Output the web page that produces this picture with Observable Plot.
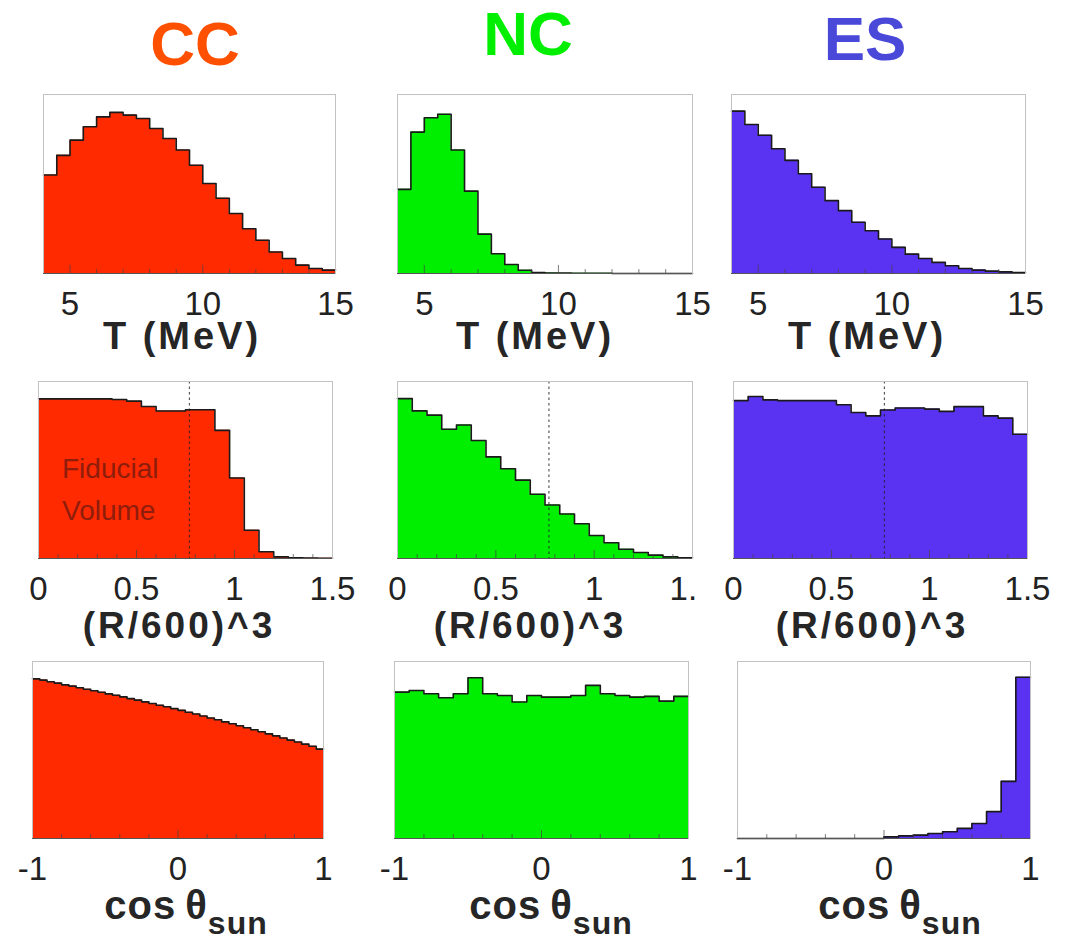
<!DOCTYPE html>
<html><head><meta charset="utf-8">
<script src="https://cdn.jsdelivr.net/npm/d3@7"></script>
<script src="https://cdn.jsdelivr.net/npm/@observablehq/plot@0.6"></script>
<style>
body{margin:0;background:#fff;}
#root{position:relative;width:1074px;height:939px;overflow:hidden;font-family:"Liberation Sans",Arial,Helvetica,sans-serif;}
.title{position:absolute;font-weight:bold;font-size:62px;line-height:1.1;transform:translateX(-50%);white-space:nowrap;}
.xlab{position:absolute;font-weight:bold;color:#262626;line-height:1;transform:translateX(-50%);white-space:nowrap;}
.panel{position:absolute;overflow:visible;}
.panel svg{max-width:none !important;}
</style></head><body><div id="root"></div>
<script>
// ---------- channel titles & colours ----------
const channels = ["CC", "NC", "ES"];
const titleColors = ["#ff5000", "#00ee00", "#4a48d8"];
const fillColors = ["#ff2a00", "#00ee00", "#5a32f2"];

// ---------- row 1: kinetic energy T (MeV), 0.5 MeV bins ----------
const tEdges = [4,4.5,5,5.5,6,6.5,7,7.5,8,8.5,9,9.5,10,10.5,11,11.5,12,12.5,13,13.5,14,14.5,15];
const ccT = [0.55,0.66,0.745,0.82,0.875,0.90,0.885,0.866,0.81,0.754,0.69,0.605,0.503,0.42,0.335,0.25,0.186,0.12,0.084,0.047,0.028,0.019];
const ncT = [0.47,0.79,0.87,0.89,0.69,0.46,0.22,0.11,0.05,0.018,0.006,0.003,0.002,0.001,0.001,0.001,0,0,0,0,0,0];
const esT = [0.907,0.832,0.772,0.697,0.632,0.557,0.482,0.407,0.351,0.286,0.239,0.193,0.146,0.108,0.084,0.062,0.043,0.028,0.019,0.013,0.009,0.006];
const tTicks = [5, 10, 15];
const tMinor = [6, 7, 8, 9, 11, 12, 13, 14];

// ---------- row 2: (R/600)^3, 0.075 bins ----------
const rEdges = [0,0.075,0.15,0.225,0.3,0.375,0.45,0.525,0.6,0.675,0.75,0.825,0.9,0.975,1.05,1.125,1.2,1.275,1.35,1.425,1.5];
const ccR = [0.902,0.902,0.902,0.902,0.902,0.898,0.889,0.859,0.833,0.833,0.840,0.840,0.724,0.455,0.160,0.038,0.009,0.004,0.002,0.001];
const ncR = [0.903,0.834,0.810,0.730,0.754,0.667,0.574,0.507,0.443,0.363,0.302,0.251,0.196,0.130,0.089,0.052,0.034,0.019,0.009,0.004];
const esR = [0.892,0.915,0.896,0.892,0.892,0.892,0.892,0.869,0.825,0.806,0.839,0.850,0.850,0.844,0.831,0.858,0.858,0.806,0.793,0.702];
const rTicks = [0, 0.5, 1, 1.5];
const rMinor = [0.1,0.2,0.3,0.4,0.6,0.7,0.8,0.9,1.1,1.2,1.3,1.4];
const fiducialCut = [0.77];
const fiducialText = ["Fiducial", "Volume"];
const fiducialTextY = [0.508, 0.271];
const fiducialTextX = 0.12;

// ---------- row 3: cos(theta_sun) ----------
const cEdges40 = [-1,-0.95,-0.9,-0.85,-0.8,-0.75,-0.7,-0.65,-0.6,-0.55,-0.5,-0.45,-0.4,-0.35,-0.3,-0.25,-0.2,-0.15,-0.1,-0.05,0,0.05,0.1,0.15,0.2,0.25,0.3,0.35,0.4,0.45,0.5,0.55,0.6,0.65,0.7,0.75,0.8,0.85,0.9,0.95,1];
const cEdges20 = [-1,-0.9,-0.8,-0.7,-0.6,-0.5,-0.4,-0.3,-0.2,-0.1,0,0.1,0.2,0.3,0.4,0.5,0.6,0.7,0.8,0.9,1];
const ccCos = [0.902,0.895,0.886,0.878,0.868,0.861,0.852,0.843,0.835,0.826,0.817,0.809,0.800,0.790,0.782,0.772,0.763,0.753,0.744,0.734,0.724,0.713,0.703,0.692,0.681,0.671,0.659,0.648,0.637,0.626,0.614,0.603,0.591,0.580,0.568,0.556,0.545,0.533,0.521,0.505];
const ncCos = [0.827,0.836,0.818,0.795,0.818,0.908,0.818,0.808,0.771,0.808,0.799,0.799,0.808,0.865,0.818,0.808,0.799,0.803,0.776,0.803];
const esCos = [0,0,0,0,0,0,0,0,0,0,0.009,0.015,0.019,0.028,0.038,0.057,0.085,0.152,0.323,0.911];
const cTicks = [-1, 0, 1];
const cMinor = [-0.8,-0.6,-0.4,-0.2,0.2,0.4,0.6,0.8];

// ---------- axis labels ----------
const tLabel = "T (MeV)";
const rLabel = "(R/600)^3";
const cLabelMain = "cos\u2009\u03b8";
const cLabelSub = "sun";

const root = document.getElementById("root");

// titles
const titlePos = [{x: 195, top: 10}, {x: 528, top: 0}, {x: 865, top: 5}];
channels.forEach((c, i) => {
  const d = document.createElement("div");
  d.className = "title";
  d.textContent = c;
  d.style.color = titleColors[i];
  d.style.left = titlePos[i].x + "px";
  d.style.top = titlePos[i].top + "px";
  root.appendChild(d);
});

function panel(o) {
  const W = o.right - o.left, H = o.bottom - o.top;
  const mL = 30, mR = 40, mT = 2, mB = 60;
  const bins = o.values.map((v, i) => ({x1: o.edges[i], x2: o.edges[i + 1], y: v}));
  const pts = bins.flatMap(b => [{x: b.x1, y: b.y}, {x: b.x2, y: b.y}]);
  const marks = [
    Plot.areaY(pts, {x: "x", y1: 0, y2: "y", fill: o.fill}),
  ];
  if (o.dashed) marks.push(Plot.ruleX(fiducialCut, {stroke: "#222", strokeOpacity: 0.75, strokeDasharray: "2.5,3", strokeWidth: 1.2}));
  if (o.annot) marks.push(Plot.text(fiducialText, {
    x: () => fiducialTextX, y: (d, i) => fiducialTextY[i], text: d => d,
    textAnchor: "start", lineAnchor: "middle", fill: "#8e1d0c", fontSize: 28
  }));
  marks.push(
    Plot.line(pts, {x: "x", y: "y", stroke: "#1a1a1a", strokeWidth: 1.6}),
    Plot.ruleX(o.minor, {y1: 0, y2: 0.022, stroke: "#444", strokeOpacity: 0.7}),
    Plot.ruleX(o.ticks, {y1: 0, y2: 0.045, stroke: "#444", strokeOpacity: 0.7}),
    Plot.frame({stroke: "#c2c2c2", strokeWidth: 1}),
    Plot.ruleY([0], {stroke: "#555", strokeWidth: 1.2}),
    Plot.axisX(o.ticks, {tickSize: 0, tickPadding: 18, label: null, fontSize: 33, fill: "#222", tickFormat: d => String(d)})
  );
  const svg = Plot.plot({
    width: W + mL + mR, height: H + mT + mB,
    marginLeft: mL, marginRight: mR, marginTop: mT, marginBottom: mB,
    x: {domain: o.domain, label: null},
    y: {domain: [0, 1], axis: null},
    style: {fontFamily: "'Liberation Sans', Arial, Helvetica, sans-serif", fontSize: "33px", color: "#222", background: "transparent", overflow: "visible", maxWidth: "none"},
    marks
  });
  svg.style.maxWidth = "none";
  const wrap = document.createElement("div");
  wrap.className = "panel";
  wrap.style.left = (o.left - mL) + "px";
  wrap.style.top = (o.top - mT) + "px";
  wrap.style.width = (W + mL + mR) + "px";
  wrap.style.height = (H + mT + mB) + "px";
  if (o.clipAt) {
    wrap.style.overflow = "hidden";
    wrap.style.width = (o.clipAt - (o.left - mL)) + "px";
  }
  wrap.appendChild(svg);
  root.appendChild(wrap);
}

function xlabel(html, cx, top, size, spacing) {
  const d = document.createElement("div");
  d.className = "xlab";
  d.innerHTML = html;
  d.style.left = cx + "px";
  d.style.top = top + "px";
  d.style.fontSize = size + "px";
  d.style.letterSpacing = spacing + "px";
  root.appendChild(d);
}

// Row 1
panel({left: 43, right: 335, top: 94, bottom: 273, domain: [4, 15], edges: tEdges, values: ccT, fill: fillColors[0], ticks: tTicks, minor: tMinor});
panel({left: 397, right: 692, top: 94, bottom: 273, domain: [4, 15], edges: tEdges, values: ncT, fill: fillColors[1], ticks: tTicks, minor: tMinor});
panel({left: 731, right: 1025, top: 94, bottom: 273, domain: [4, 15], edges: tEdges, values: esT, fill: fillColors[2], ticks: tTicks, minor: tMinor});
// Row 2
panel({left: 38, right: 332, top: 381, bottom: 558, domain: [0, 1.5], edges: rEdges, values: ccR, fill: fillColors[0], ticks: rTicks, minor: rMinor, dashed: true, annot: true});
panel({left: 397, right: 692, top: 381, bottom: 558, domain: [0, 1.5], edges: rEdges, values: ncR, fill: fillColors[1], ticks: rTicks, minor: rMinor, dashed: true, clipAt: 698});
panel({left: 733, right: 1027, top: 381, bottom: 558, domain: [0, 1.5], edges: rEdges, values: esR, fill: fillColors[2], ticks: rTicks, minor: rMinor, dashed: true});
// Row 3
panel({left: 32, right: 323, top: 661, bottom: 838, domain: [-1, 1], edges: cEdges40, values: ccCos, fill: fillColors[0], ticks: cTicks, minor: cMinor});
panel({left: 394, right: 688, top: 661, bottom: 838, domain: [-1, 1], edges: cEdges20, values: ncCos, fill: fillColors[1], ticks: cTicks, minor: cMinor});
panel({left: 737, right: 1030, top: 661, bottom: 838, domain: [-1, 1], edges: cEdges20, values: esCos, fill: fillColors[2], ticks: cTicks, minor: cMinor});

// axis labels
[182, 535, 867].forEach(cx => xlabel(tLabel, cx, 317, 38, 3));
[179, 530, 872].forEach(cx => xlabel(rLabel, cx, 607, 37, 3));
const cHtml = cLabelMain + '<span style="font-size:32px;position:relative;top:15px;">' + cLabelSub + '</span>';
[186, 551, 900].forEach(cx => xlabel(cHtml, cx, 885, 40, 1));
</script>
</body></html>
